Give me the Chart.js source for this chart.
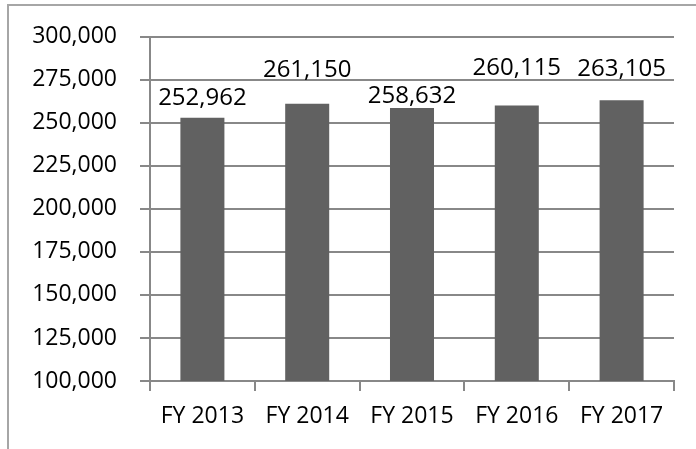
<!DOCTYPE html>
<html>
<head>
<meta charset="utf-8">
<script src="https://cdn.jsdelivr.net/npm/chart.js@4/dist/chart.umd.min.js"></script>
<style>
  html, body { margin: 0; padding: 0; background: #ffffff; overflow: hidden; }
  #wrap { position: relative; width: 696px; height: 449px; }
  #frame { position: absolute; left: 7px; top: 4px; width: 720px; height: 480px;
           border-left: 2px solid #a6a6a6; border-top: 2px solid #a6a6a6; box-sizing: border-box; }
  canvas { position: absolute; left: 0; top: 0; }
</style>
</head>
<body>
<div id="wrap">
  <div id="frame"></div>
  <canvas id="c" width="696" height="449"></canvas>
</div>
<script>
const categories = ["FY 2013", "FY 2014", "FY 2015", "FY 2016", "FY 2017"];
const values = [252962, 261150, 258632, 260115, 263105];
const yMin = 100000;
const yMax = 300000;
const yStep = 25000;

const FONT = "'Open Sans', 'Liberation Sans', sans-serif";
const GRID = "#888888";

const labelPlugin = {
  id: 'barLabels',
  afterDatasetsDraw(chart, args, opts) {
    const ctx = chart.ctx;
    const meta = chart.getDatasetMeta(0);
    ctx.save();
    ctx.font = "24px " + FONT;
    ctx.fillStyle = "#000000";
    ctx.textAlign = "center";
    ctx.textBaseline = "alphabetic";
    meta.data.forEach((bar, i) => {
      const v = chart.data.datasets[0].data[i];
      const raise = opts.raise[i];
      ctx.fillText(v.toLocaleString('en-US'), bar.x, bar.y - raise);
    });
    ctx.restore();
  }
};

new Chart(document.getElementById('c'), {
  type: 'bar',
  data: {
    labels: categories,
    datasets: [{
      data: values,
      backgroundColor: "#616161",
      borderWidth: 0,
      barPercentage: 0.42,
      categoryPercentage: 1.0
    }]
  },
  options: {
    responsive: false,
    animation: false,
    devicePixelRatio: 1,
    layout: { padding: { left: 0, top: 35, right: 22, bottom: 0 } },
    plugins: {
      legend: { display: false },
      tooltip: { enabled: false },
      barLabels: { raise: [13, 27, 5, 30, 24] }
    },
    scales: {
      x: {
        offset: true,
        grid: { display: true, drawOnChartArea: false, drawTicks: true, tickLength: 10, color: GRID, lineWidth: 2, offset: true },
        border: { display: true, color: GRID, width: 2 },
        ticks: { color: "#000000", font: { family: FONT, size: 23 }, padding: 12 },
        afterFit(scale) { scale.height = 68; }
      },
      y: {
        min: yMin,
        max: yMax,
        grid: { display: true, drawOnChartArea: true, drawTicks: true, tickLength: 10, color: GRID, lineWidth: 2 },
        border: { display: true, color: GRID, width: 2 },
        ticks: {
          stepSize: yStep,
          color: "#000000",
          padding: 23,
          font: { family: FONT, size: 23 },
          callback: v => v.toLocaleString('en-US')
        },
        afterFit(scale) { scale.width = 150; }
      }
    }
  },
  plugins: [labelPlugin]
});
</script>
</body>
</html>
